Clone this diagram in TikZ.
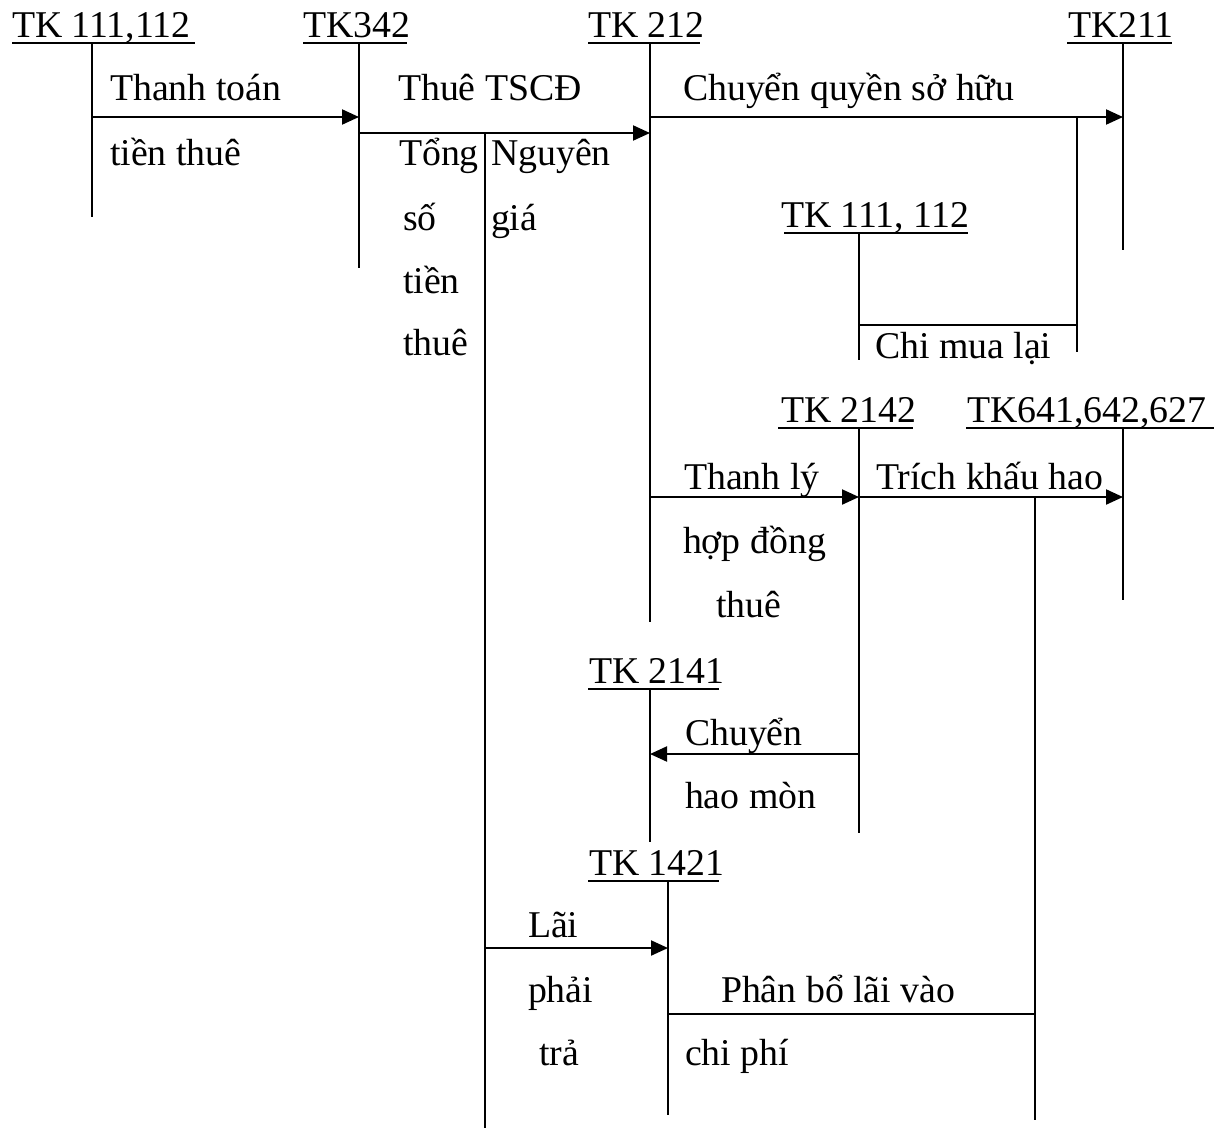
\documentclass[tikz,border=0pt]{standalone}
\usepackage{fontspec}
\setmainfont{Liberation Serif}
\usetikzlibrary{arrows.meta}
\begin{document}
\begin{tikzpicture}[x=0.5pt,y=-0.5pt,line width=1.05pt,
  lbl/.style={inner sep=0pt,anchor=base west,font=\fontsize{18.9}{22}\selectfont},
  arr/.style={-{Triangle[length=8.5pt,width=7.5pt]}},
  uline/.style={line width=0.9pt}]
\useasboundingbox (0,0) rectangle (1224,1130);
% ---- account headers
\node[lbl] (h111) at (11,37) {TK 111,112};
\node[lbl] (h342) at (302,37) {TK342};
\node[lbl] (h212) at (587,37) {TK 212};
\node[lbl] (h211) at (1067,37) {TK211};
\node[lbl] (h111b) at (780,227) {TK 111, 112};
\node[lbl] (h2142) at (780,422) {TK 2142};
\node[lbl] (h641) at (966,422) {TK641,642,627};
\node[lbl] (h2141) at (588,683) {TK 2141};
\node[lbl] (h1421) at (588,875) {TK 1421};
% underlines
\draw[uline] (12,43) -- (195,43);
\draw[uline] (303,43) -- (407,43);
\draw[uline] (588,43) -- (700,43);
\draw[uline] (1067,43) -- (1172,43);
\draw[uline] (784,233) -- (968,233);
\draw[uline] (778,428) -- (913,428);
\draw[uline] (966,428) -- (1214,428);
\draw[uline] (588,689) -- (719,689);
\draw[uline] (588,881) -- (719,881);
% ---- coordinates of the T-account stems
\coordinate (t111) at (92,43);   \coordinate (b111) at (92,217);
\coordinate (t342) at (359,43);  \coordinate (b342) at (359,268);
\coordinate (t212) at (650,43);  \coordinate (b212) at (650,622);
\coordinate (t211) at (1123,43); \coordinate (b211) at (1123,250);
\coordinate (t111b) at (859,233); \coordinate (b111b) at (859,360);
\coordinate (t2142) at (859,428); \coordinate (b2142) at (859,833);
\coordinate (t641) at (1123,428); \coordinate (b641) at (1123,600);
\coordinate (t2141) at (650,689); \coordinate (b2141) at (650,842);
\coordinate (t1421) at (668,881); \coordinate (b1421) at (668,1115);
\draw (t111) -- (b111);
\draw (t342) -- (b342);
\draw (t212) -- (b212);
\draw (t211) -- (b211);
\draw (t111b) -- (b111b);
\draw (t2142) -- (b2142);
\draw (t641) -- (b641);
\draw (t2141) -- (b2141);
\draw (t1421) -- (b1421);
% ---- connector points
\coordinate (p1a) at (92,117);  \coordinate (p1b) at (359,117);
\coordinate (p2a) at (359,133); \coordinate (p2b) at (650,133);
\coordinate (v485a) at (485,133); \coordinate (v485b) at (485,1128);
\coordinate (p3a) at (650,117); \coordinate (p3b) at (1123,117);
\coordinate (v1077a) at (1077,117); \coordinate (v1077b) at (1077,352);
\coordinate (p4a) at (859,325); \coordinate (p4b) at (1077,325);
\coordinate (p5a) at (650,497); \coordinate (p5b) at (859,497);
\coordinate (p6b) at (1123,497);
\coordinate (v1035a) at (1035,497); \coordinate (v1035b) at (1035,1120);
\coordinate (p7a) at (859,754); \coordinate (p7b) at (650,754);
\coordinate (p8a) at (485,948); \coordinate (p8b) at (668,948);
\coordinate (p9a) at (668,1014); \coordinate (p9b) at (1035,1014);
\draw[arr] (p1a) -- (p1b);
\draw[arr] (p2a) -- (p2b);
\draw (v485a) -- (v485b);
\draw[arr] (p3a) -- (p3b);
\draw (v1077a) -- (v1077b);
\draw (p4a) -- (p4b);
\draw[arr] (p5a) -- (p5b);
\draw[arr] (p5b) -- (p6b);
\draw (v1035a) -- (v1035b);
\draw[arr] (p7a) -- (p7b);
\draw[arr] (p8a) -- (p8b);
\draw (p9a) -- (p9b);
% ---- labels
\node[lbl] (l1) at (109,100) {Thanh toán};
\node[lbl] (l2) at (109,165) {tiền thuê};
\node[lbl] (l3) at (397,100) {Thuê TSCĐ};
\node[lbl] (l4) at (398,165) {Tổng};
\node[lbl] (l5) at (402,230) {số};
\node[lbl] (l6) at (402,293) {tiền};
\node[lbl] (l7) at (402,355) {thuê};
\node[lbl] (l8) at (490,165) {Nguyên};
\node[lbl] (l9) at (490,230) {giá};
\node[lbl] (l10) at (682,100) {Chuyển quyền sở hữu};
\node[lbl] (l11) at (874,358) {Chi mua lại};
\node[lbl] (l12) at (683,489) {Thanh lý};
\node[lbl] (l13) at (682,553) {hợp đồng};
\node[lbl] (l14) at (715,617) {thuê};
\node[lbl] (l15) at (875,489) {Trích khấu hao};
\node[lbl] (l16) at (684,745) {Chuyển};
\node[lbl] (l17) at (684,808) {hao mòn};
\node[lbl] (l18) at (527,937) {Lãi};
\node[lbl] (l19) at (527,1002) {phải};
\node[lbl] (l20) at (538,1065) {trả};
\node[lbl] (l21) at (720,1002) {Phân bổ lãi vào};
\node[lbl] (l22) at (684,1065) {chi phí};
\end{tikzpicture}
\end{document}
